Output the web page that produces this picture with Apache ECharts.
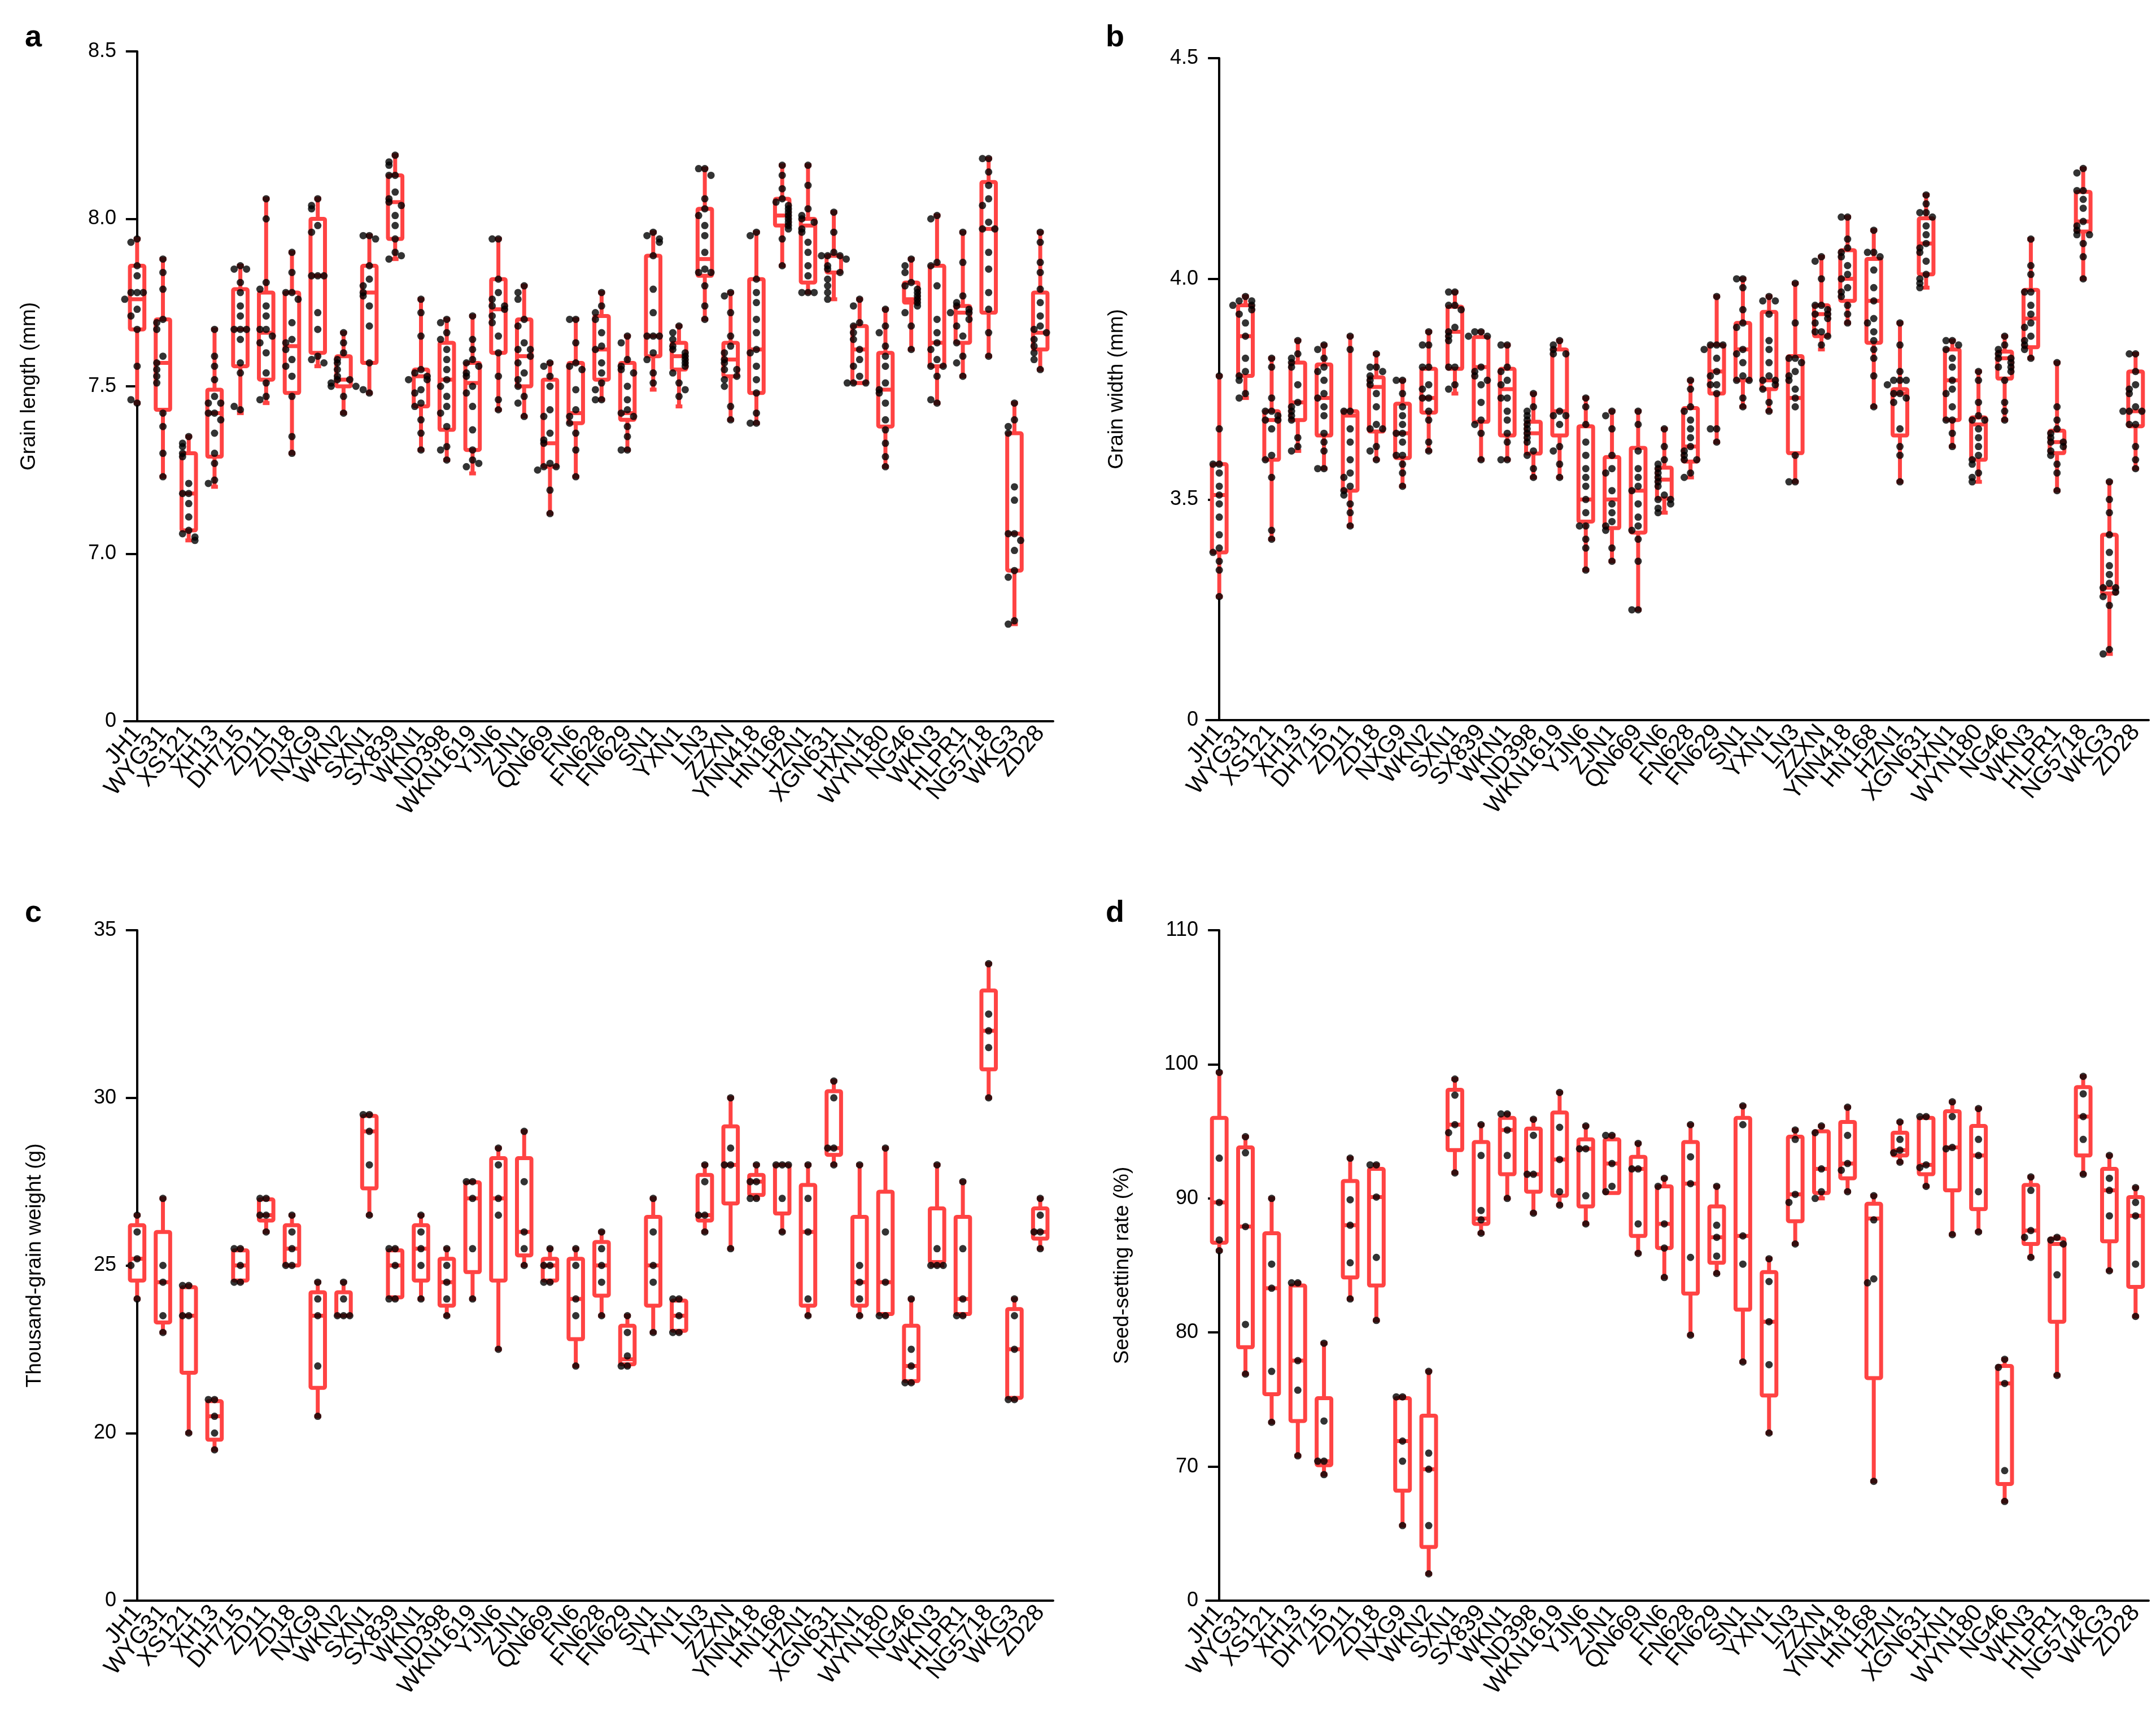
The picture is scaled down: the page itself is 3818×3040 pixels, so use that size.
<!DOCTYPE html>
<html><head><meta charset="utf-8">
<script src="https://cdn.jsdelivr.net/npm/echarts@6/dist/echarts.min.js"></script>
<style>html,body{margin:0;padding:0;background:#fff}#c{width:3818px;height:3040px}</style>
</head><body><div id="c"></div>
<script>
const categoriesAC = ['JH1','WYG31','XS121','XH13','DH715','ZD11','ZD18','NXG9','WKN2','SXN1','SX839','WKN1','ND398','WKN1619','YJN6','ZJN1','QN669','FN6','FN628','FN629','SN1','YXN1','LN3','ZZXN','YNN418','HN168','HZN1','XGN631','HXN1','WYN180','NG46','WKN3','HLPR1','NG5718','WKG3','ZD28'];
const categoriesBD = categoriesAC;

// Panel a: grain length (mm) [min,q1,median,q3,max]
const boxA = [[7.45,7.67,7.76,7.86,7.94],[7.23,7.43,7.57,7.70,7.88],[7.04,7.07,7.18,7.30,7.35],[7.20,7.29,7.42,7.49,7.67],[7.42,7.56,7.67,7.79,7.86],[7.45,7.52,7.66,7.78,8.06],[7.30,7.48,7.62,7.78,7.90],[7.56,7.60,7.83,8.00,8.06],[7.42,7.50,7.52,7.59,7.66],[7.48,7.57,7.78,7.86,7.95],[7.88,7.94,8.05,8.13,8.19],[7.31,7.44,7.53,7.55,7.76],[7.28,7.37,7.52,7.63,7.70],[7.24,7.31,7.51,7.57,7.71],[7.43,7.60,7.73,7.82,7.94],[7.41,7.50,7.59,7.70,7.80],[7.12,7.26,7.33,7.52,7.57],[7.23,7.39,7.42,7.57,7.70],[7.46,7.52,7.61,7.71,7.78],[7.31,7.40,7.42,7.57,7.65],[7.49,7.59,7.65,7.89,7.96],[7.44,7.55,7.59,7.63,7.68],[7.70,7.83,7.88,8.03,8.15],[7.40,7.53,7.58,7.63,7.78],[7.39,7.48,7.61,7.82,7.96],[7.86,7.98,8.01,8.06,8.16],[7.78,7.81,7.98,8.00,8.16],[7.76,7.84,7.89,7.89,8.02],[7.51,7.51,7.61,7.68,7.76],[7.26,7.38,7.49,7.60,7.73],[7.61,7.75,7.76,7.81,7.88],[7.45,7.56,7.63,7.86,8.01],[7.53,7.63,7.72,7.74,7.96],[7.59,7.72,7.97,8.11,8.18],[6.79,6.95,7.06,7.36,7.45],[7.55,7.61,7.66,7.78,7.96]];
const pointsA = [
[7.94,7.93,7.86,7.83,7.78,7.78,7.78,7.76,7.73,7.71,7.67,7.56,7.45,7.46],
[7.88,7.84,7.79,7.70,7.69,7.67,7.59,7.57,7.55,7.53,7.51,7.42,7.38,7.30,7.23],
[7.35,7.33,7.32,7.30,7.29,7.21,7.18,7.18,7.15,7.11,7.07,7.06,7.05,7.04],
[7.67,7.59,7.56,7.52,7.47,7.45,7.45,7.42,7.42,7.40,7.36,7.30,7.27,7.22,7.21],
[7.86,7.85,7.85,7.81,7.78,7.74,7.71,7.67,7.67,7.67,7.64,7.57,7.54,7.43,7.44],
[8.06,8.00,7.81,7.79,7.74,7.71,7.67,7.67,7.65,7.63,7.60,7.54,7.51,7.47,7.46],
[7.90,7.84,7.78,7.78,7.76,7.69,7.64,7.63,7.61,7.58,7.56,7.53,7.47,7.35,7.30],
[8.06,8.04,8.03,7.98,7.96,7.83,7.83,7.83,7.72,7.67,7.59,7.58,7.57],
[7.66,7.63,7.60,7.58,7.57,7.55,7.53,7.52,7.52,7.51,7.50,7.50,7.47,7.42],
[7.95,7.95,7.94,7.86,7.82,7.80,7.78,7.77,7.74,7.68,7.57,7.48,7.49],
[8.19,8.17,8.16,8.13,8.13,8.08,8.06,8.05,8.04,8.01,7.98,7.94,7.90,7.88,7.89],
[7.76,7.72,7.65,7.55,7.54,7.53,7.52,7.52,7.49,7.48,7.45,7.44,7.40,7.36,7.31],
[7.70,7.69,7.66,7.64,7.61,7.58,7.55,7.52,7.50,7.47,7.44,7.42,7.38,7.32,7.31,7.28],
[7.71,7.64,7.61,7.58,7.57,7.56,7.54,7.53,7.50,7.48,7.44,7.37,7.31,7.28,7.26,7.27],
[7.94,7.94,7.82,7.78,7.76,7.74,7.74,7.73,7.71,7.69,7.65,7.60,7.53,7.46,7.43],
[7.80,7.78,7.76,7.70,7.68,7.63,7.61,7.61,7.59,7.57,7.54,7.52,7.50,7.47,7.45,7.41],
[7.57,7.56,7.53,7.50,7.43,7.41,7.36,7.34,7.33,7.27,7.26,7.26,7.25,7.19,7.12],
[7.70,7.70,7.63,7.57,7.56,7.55,7.49,7.43,7.41,7.39,7.36,7.31,7.23],
[7.78,7.74,7.72,7.70,7.66,7.62,7.61,7.57,7.54,7.51,7.49,7.46,7.46],
[7.65,7.63,7.58,7.56,7.55,7.54,7.50,7.46,7.43,7.42,7.41,7.38,7.35,7.31,7.31],
[7.96,7.95,7.94,7.93,7.89,7.79,7.72,7.65,7.65,7.65,7.60,7.58,7.54,7.51],
[7.68,7.66,7.64,7.62,7.61,7.60,7.59,7.58,7.57,7.56,7.54,7.51,7.47,7.49],
[8.15,8.15,8.13,8.06,8.03,8.01,7.98,7.95,7.90,7.85,7.84,7.84,7.80,7.74,7.70],
[7.78,7.77,7.72,7.65,7.62,7.60,7.58,7.57,7.55,7.55,7.53,7.52,7.50,7.44,7.40],
[7.96,7.95,7.82,7.78,7.75,7.70,7.66,7.61,7.60,7.56,7.52,7.48,7.42,7.39,7.39],
[8.16,8.13,8.09,8.06,8.05,8.04,8.03,8.02,8.01,8.00,7.99,7.98,7.97,7.94,7.86],
[8.16,8.10,8.03,8.01,8.00,7.99,7.97,7.96,7.93,7.90,7.86,7.83,7.78,7.78,7.78],
[8.02,7.96,7.90,7.89,7.89,7.89,7.88,7.86,7.85,7.84,7.82,7.80,7.78,7.76],
[7.76,7.74,7.69,7.68,7.66,7.64,7.61,7.58,7.56,7.53,7.51,7.51,7.51],
[7.73,7.68,7.66,7.62,7.59,7.56,7.51,7.49,7.48,7.45,7.40,7.37,7.33,7.29,7.26],
[7.88,7.86,7.84,7.81,7.80,7.79,7.78,7.77,7.76,7.75,7.74,7.72,7.68,7.61],
[8.01,8.00,7.87,7.86,7.80,7.70,7.66,7.63,7.61,7.58,7.56,7.56,7.53,7.45,7.46],
[7.96,7.87,7.77,7.75,7.74,7.73,7.72,7.72,7.70,7.68,7.65,7.63,7.59,7.57,7.53],
[8.18,8.18,8.14,8.10,8.06,8.04,7.99,7.97,7.97,7.90,7.85,7.78,7.73,7.66,7.59],
[7.45,7.40,7.38,7.36,7.20,7.16,7.06,7.06,7.04,7.01,6.95,6.93,6.80,6.79],
[7.96,7.93,7.87,7.84,7.79,7.75,7.71,7.68,7.67,7.66,7.64,7.62,7.60,7.58,7.55]];

// Panel b: grain width (mm)
const boxB = [[3.28,3.38,3.51,3.58,3.78],[3.73,3.78,3.87,3.94,3.96],[3.41,3.59,3.68,3.70,3.82],[3.61,3.68,3.72,3.81,3.86],[3.57,3.645,3.73,3.806,3.85],[3.44,3.52,3.69,3.70,3.87],[3.59,3.654,3.755,3.777,3.83],[3.53,3.594,3.65,3.717,3.77],[3.61,3.697,3.73,3.796,3.88],[3.74,3.796,3.88,3.937,3.97],[3.59,3.676,3.80,3.868,3.88],[3.59,3.645,3.75,3.796,3.85],[3.55,3.604,3.65,3.676,3.74],[3.55,3.645,3.70,3.84,3.86],[3.34,3.45,3.50,3.666,3.73],[3.36,3.435,3.50,3.596,3.70],[3.25,3.425,3.52,3.617,3.70],[3.47,3.502,3.545,3.572,3.66],[3.55,3.586,3.62,3.707,3.77],[3.63,3.74,3.79,3.85,3.96],[3.71,3.77,3.84,3.90,4.00],[3.70,3.75,3.77,3.925,3.96],[3.54,3.605,3.73,3.825,3.99],[3.84,3.87,3.92,3.94,4.05],[3.90,3.95,4.00,4.065,4.14],[3.71,3.855,3.95,4.045,4.11],[3.54,3.645,3.74,3.75,3.90],[3.98,4.01,4.08,4.137,4.19],[3.62,3.68,3.77,3.84,3.86],[3.54,3.59,3.67,3.686,3.79],[3.68,3.774,3.82,3.835,3.87],[3.82,3.845,3.91,3.975,4.09],[3.52,3.605,3.63,3.656,3.81],[4.00,4.107,4.13,4.197,4.25],[3.15,3.287,3.30,3.42,3.54],[3.57,3.666,3.70,3.79,3.83]];
const pointsB = [
[3.78,3.66,3.58,3.58,3.56,3.53,3.51,3.49,3.46,3.42,3.39,3.38,3.36,3.34,3.28],
[3.96,3.95,3.95,3.94,3.94,3.93,3.92,3.90,3.87,3.82,3.79,3.78,3.77,3.74,3.73],
[3.82,3.80,3.73,3.70,3.70,3.69,3.68,3.68,3.66,3.60,3.59,3.55,3.43,3.41],
[3.86,3.83,3.82,3.81,3.80,3.76,3.72,3.71,3.70,3.69,3.68,3.64,3.62,3.61],
[3.85,3.84,3.82,3.80,3.79,3.77,3.74,3.73,3.71,3.69,3.65,3.63,3.61,3.57,3.57],
[3.87,3.84,3.70,3.70,3.66,3.63,3.59,3.56,3.55,3.53,3.52,3.51,3.49,3.47,3.44],
[3.83,3.80,3.80,3.79,3.78,3.77,3.76,3.74,3.71,3.67,3.66,3.66,3.62,3.61,3.59],
[3.77,3.77,3.74,3.71,3.69,3.67,3.65,3.65,3.63,3.60,3.60,3.58,3.56,3.53],
[3.88,3.85,3.85,3.80,3.80,3.76,3.75,3.73,3.73,3.70,3.68,3.63,3.61],
[3.97,3.97,3.94,3.94,3.93,3.89,3.88,3.87,3.86,3.80,3.80,3.76,3.75],
[3.88,3.88,3.87,3.87,3.80,3.79,3.78,3.76,3.77,3.72,3.68,3.67,3.65,3.59],
[3.85,3.85,3.80,3.79,3.77,3.76,3.73,3.73,3.70,3.68,3.65,3.63,3.59,3.59],
[3.74,3.71,3.70,3.69,3.68,3.67,3.66,3.65,3.64,3.63,3.61,3.60,3.57,3.55],
[3.86,3.85,3.84,3.83,3.83,3.70,3.69,3.69,3.67,3.62,3.61,3.58,3.55],
[3.73,3.71,3.67,3.63,3.60,3.57,3.55,3.53,3.50,3.47,3.44,3.44,3.41,3.39,3.34],
[3.70,3.69,3.66,3.60,3.57,3.56,3.52,3.49,3.47,3.45,3.44,3.43,3.39,3.36],
[3.70,3.67,3.61,3.57,3.55,3.53,3.52,3.49,3.46,3.44,3.43,3.41,3.36,3.25,3.25],
[3.66,3.62,3.59,3.58,3.57,3.56,3.55,3.54,3.53,3.51,3.50,3.50,3.49,3.48,3.47],
[3.77,3.75,3.71,3.70,3.68,3.66,3.64,3.62,3.61,3.60,3.59,3.59,3.56,3.55],
[3.96,3.85,3.85,3.85,3.84,3.82,3.79,3.78,3.76,3.76,3.74,3.66,3.66,3.63],
[4.00,4.00,3.98,3.93,3.90,3.89,3.84,3.83,3.81,3.78,3.77,3.77,3.73,3.71],
[3.96,3.95,3.95,3.92,3.86,3.84,3.81,3.78,3.77,3.77,3.76,3.75,3.72,3.70],
[3.99,3.90,3.82,3.82,3.81,3.79,3.78,3.77,3.75,3.73,3.71,3.60,3.54,3.54],
[4.05,4.04,4.00,3.94,3.94,3.93,3.92,3.92,3.91,3.90,3.88,3.88,3.87,3.85],
[4.14,4.14,4.09,4.07,4.06,4.05,4.03,4.01,4.00,3.98,3.97,3.96,3.94,3.92,3.90],
[4.11,4.06,4.06,4.05,4.02,3.98,3.95,3.91,3.90,3.88,3.86,3.84,3.82,3.78,3.71],
[3.90,3.85,3.79,3.77,3.77,3.77,3.76,3.74,3.74,3.73,3.72,3.66,3.62,3.60,3.54],
[4.19,4.17,4.15,4.15,4.14,4.12,4.10,4.08,4.07,4.06,4.04,4.01,4.00,3.99,3.98],
[3.86,3.86,3.85,3.84,3.82,3.80,3.77,3.75,3.74,3.71,3.68,3.68,3.65,3.62],
[3.79,3.77,3.72,3.69,3.68,3.68,3.66,3.64,3.62,3.60,3.59,3.58,3.56,3.55,3.54],
[3.87,3.85,3.84,3.83,3.82,3.82,3.81,3.80,3.80,3.79,3.77,3.72,3.70,3.68],
[4.09,4.03,4.01,3.97,3.97,3.94,3.92,3.90,3.89,3.87,3.86,3.85,3.84,3.82],
[3.81,3.71,3.68,3.66,3.65,3.64,3.63,3.63,3.62,3.61,3.60,3.58,3.56,3.52],
[4.25,4.24,4.20,4.20,4.18,4.16,4.13,4.12,4.11,4.10,4.10,4.08,4.05,4.00],
[3.54,3.50,3.47,3.42,3.38,3.35,3.33,3.31,3.30,3.30,3.29,3.28,3.26,3.16,3.15],
[3.83,3.83,3.79,3.76,3.75,3.74,3.71,3.70,3.70,3.70,3.67,3.67,3.62,3.59,3.57]];

// Panel c: thousand-grain weight (g)
const boxC = [[24.0,24.55,25.2,26.2,26.5],[23.0,23.3,24.5,26.0,27.0],[20.0,21.8,23.5,24.35,24.4],[19.5,19.8,20.5,20.95,21.0],[24.5,24.55,25.0,25.45,25.5],[26.0,26.34,26.5,26.97,27.0],[25.0,25.0,25.5,26.2,26.5],[20.5,21.35,23.5,24.2,24.5],[23.5,23.5,23.5,24.2,24.5],[26.5,27.3,29.0,29.46,29.5],[24.0,24.05,25.0,25.45,25.5],[24.0,24.55,25.5,26.2,26.5],[23.5,23.8,24.5,25.2,25.5],[24.0,24.8,27.0,27.48,27.5],[22.5,24.55,27.0,28.2,28.5],[25.0,25.3,26.0,28.2,29.0],[24.5,24.55,25.0,25.2,25.5],[22.0,22.8,24.0,25.2,25.5],[23.5,24.1,25.0,25.7,26.0],[22.0,22.05,22.2,23.2,23.5],[23.0,23.8,25.0,26.45,27.0],[23.0,23.05,23.5,23.95,24.0],[26.0,26.34,26.5,27.7,28.0],[25.5,26.85,28.0,29.15,30.0],[27.0,27.1,27.5,27.7,28.0],[26.0,26.55,28.0,28.0,28.0],[23.5,23.8,26.0,27.4,28.0],[28.0,28.3,28.5,30.2,30.5],[23.5,23.8,24.5,26.45,28.0],[23.5,23.55,24.5,27.2,28.5],[21.5,21.55,22.0,23.2,24.0],[25.0,25.1,25.0,26.7,28.0],[23.5,23.55,24.0,26.45,27.5],[30.0,30.85,32.0,33.2,34.0],[21.0,21.05,22.5,23.7,24.0],[25.5,25.8,26.0,26.7,27.0]];
const pointsC = [[26.5,26.0,25.2,25.0,24.0],[27.0,25.0,24.5,23.5,23.0],[24.4,24.4,23.5,23.5,20.0],[21.0,21.0,20.5,20.0,19.5],[25.5,25.5,25.0,24.5,24.5],[27.0,27.0,26.5,26.5,26.0],[26.5,26.0,25.5,25.0,25.0],[24.5,24.0,23.5,22.0,20.5],[24.5,24.0,23.5,23.5,23.5],[29.5,29.5,29.0,28.0,26.5],[25.5,25.5,25.0,24.0,24.0],[26.5,26.0,25.5,25.0,24.0],[25.5,25.0,24.5,24.0,23.5],[27.5,27.5,27.0,25.5,24.0],[28.5,28.0,27.0,26.5,22.5],[29.0,27.5,26.0,25.5,25.0],[25.5,25.0,25.0,24.5,24.5],[25.5,25.0,24.0,23.5,22.0],[26.0,25.5,25.0,24.5,23.5],[23.5,23.0,22.3,22.0,22.0],[27.0,26.0,25.0,24.5,23.0],[24.0,24.0,23.5,23.0,23.0],[28.0,27.5,26.5,26.5,26.0],[30.0,28.5,28.0,28.0,25.5],[28.0,27.5,27.5,27.0,27.0],[28.0,28.0,28.0,27.0,26.0],[28.0,27.0,26.0,24.0,23.5],[30.5,30.0,28.5,28.5,28.0],[28.0,25.0,24.5,24.0,23.5],[28.5,26.0,24.5,23.5,23.5],[24.0,22.5,22.0,21.5,21.5],[28.0,25.5,25.0,25.0,25.0],[27.5,25.5,24.0,23.5,23.5],[34.0,32.5,32.0,31.5,30.0],[24.0,23.5,22.5,21.0,21.0],[27.0,26.5,26.0,26.0,25.5]];

// Panel d: seed-setting rate (%)
const boxD = [[86.1,86.7,89.7,96.0,99.4],[76.9,78.9,87.9,93.8,94.6],[73.3,75.4,83.3,87.4,90.0],[70.8,73.4,77.9,83.5,83.7],[69.4,70.1,70.4,75.1,79.2],[82.5,84.1,88.0,91.3,93.0],[80.9,83.5,90.1,92.2,92.5],[65.6,68.2,71.9,75.1,75.2],[62.0,64.0,69.8,73.8,77.1],[91.9,93.6,95.5,98.1,98.9],[87.4,88.1,88.5,94.2,95.5],[90.0,91.8,95.1,96.0,96.3],[88.9,90.5,91.8,95.2,95.9],[89.5,90.2,92.9,96.4,97.9],[88.1,89.4,93.7,94.4,95.4],[90.5,90.4,92.6,94.4,94.7],[85.9,87.2,92.2,93.1,94.1],[84.1,86.3,88.1,90.9,91.5],[79.8,82.9,91.1,94.2,95.5],[84.4,85.2,87.1,89.4,90.9],[77.8,81.7,87.2,96.0,96.9],[72.5,75.3,80.8,84.5,85.5],[86.6,88.3,90.3,94.6,95.1],[90.0,90.4,92.2,95.0,95.4],[90.5,91.5,92.6,95.7,96.8],[68.9,76.6,88.5,89.6,90.2],[92.7,93.2,93.6,94.9,95.7],[90.9,91.8,92.5,96.0,96.1],[87.3,90.6,93.8,96.5,97.2],[87.5,89.2,93.2,95.4,96.7],[67.4,68.7,76.2,77.5,78.0],[85.6,86.6,87.6,91.0,91.6],[76.8,80.8,86.6,87.0,87.1],[91.8,93.2,96.1,98.3,99.1],[84.6,86.8,90.6,92.2,93.2],[81.2,83.4,88.7,90.1,90.8]];
const pointsD = [[99.4,93.0,89.7,86.9,86.1],[94.6,93.4,87.9,80.6,76.9],[90.0,85.1,83.3,77.1,73.3],[83.7,83.7,77.9,75.7,70.8],[79.2,73.4,70.4,70.4,69.4],[93.0,89.9,88.0,85.2,82.5],[92.5,92.5,90.1,85.6,80.9],[75.2,75.2,71.9,70.4,65.6],[77.1,71.0,69.8,65.6,62.0],[98.9,97.7,95.5,94.9,91.9],[95.5,93.2,89.1,88.4,87.4],[96.3,96.3,95.1,93.2,90.0],[95.9,94.7,91.8,91.8,88.9],[97.9,95.3,92.9,90.5,89.5],[95.4,93.7,93.7,90.2,88.1],[94.7,94.7,92.6,90.9,90.5],[94.1,92.2,92.2,88.1,85.9],[91.5,90.9,88.1,86.3,84.1],[95.5,93.1,91.1,85.6,79.8],[90.9,88.0,87.1,85.7,84.4],[96.9,95.5,87.2,85.1,77.8],[85.5,83.8,80.8,77.6,72.5],[95.1,94.4,90.3,89.7,86.6],[95.4,94.9,92.2,90.5,90.0],[96.8,94.7,92.6,92.1,90.5],[90.2,88.4,84.0,83.7,68.9],[95.7,94.4,93.6,93.4,92.7],[96.1,96.1,92.5,92.3,90.9],[97.2,96.1,93.8,93.7,87.3],[96.7,94.4,93.2,90.5,87.5],[78.0,77.4,76.2,69.7,67.4],[91.6,90.6,87.6,87.1,85.6],[87.1,86.9,86.6,84.3,76.8],[99.1,97.8,96.1,94.4,91.8],[93.2,91.5,90.6,88.7,84.6],[90.8,89.7,88.7,85.1,81.2]];

const panels = [
  {cats:categoriesAC, box:boxA, pts:pointsA, min:6.5, max:8.5, interval:0.5, dec:1, name:'Grain length (mm)', grid:{left:220,top:91,width:1645,height:1186}, gap:150, tag:'a', tagPos:[44,40]},
  {cats:categoriesBD, box:boxB, pts:pointsB, min:3.0, max:4.5, interval:0.5, dec:1, name:'Grain width (mm)', grid:{left:2136,top:103,width:1669,height:1172}, gap:140, tag:'b', tagPos:[1958,40]},
  {cats:categoriesAC, box:boxC, pts:pointsC, min:15, max:35, interval:5, dec:0, name:'Thousand-grain weight (g)', grid:{left:220,top:1647,width:1645,height:1187}, gap:140, tag:'c', tagPos:[44,1590]},
  {cats:categoriesBD, box:boxD, pts:pointsD, min:60, max:110, interval:10, dec:0, name:'Seed-setting rate (%)', grid:{left:2136,top:1647,width:1669,height:1187}, gap:130, tag:'d', tagPos:[1958,1590]}
];

const RED = '#ff4343';
const FONT = 'Liberation Sans';
const grid = [], xAxis = [], yAxis = [], series = [], graphic = [];
panels.forEach((p, gi) => {
  grid.push(Object.assign({containLabel:false}, p.grid));
  xAxis.push({type:'category', gridIndex:gi, data:p.cats, boundaryGap:true,
    axisLine:{lineStyle:{color:'#000', width:4}},
    axisTick:{alignWithLabel:true, length:20, lineStyle:{color:'#000', width:4}},
    axisLabel:{interval:0, rotate:50, fontSize:42, fontFamily:FONT, color:'#000', margin:14},
    splitLine:{show:false}});
  xAxis.push({type:'value', gridIndex:gi, min:-0.5, max:p.cats.length-0.5, show:false, splitLine:{show:false}});
  yAxis.push({type:'value', gridIndex:gi, min:p.min, max:p.max, interval:p.interval,
    name:p.name, nameLocation:'middle', nameGap:p.gap, nameRotate:90,
    nameTextStyle:{fontSize:37, fontFamily:FONT, color:'#000'},
    axisLine:{show:true, lineStyle:{color:'#000', width:4}},
    axisTick:{show:true, length:20, lineStyle:{color:'#000', width:4}},
    axisLabel:{fontSize:36, fontFamily:FONT, color:'#000', margin:14,
      formatter:v => Math.abs(v - p.min) < 1e-9 ? '0' : v.toFixed(p.dec)},
    splitLine:{show:false}});
  const boxData = p.box.map((b, i) => [i].concat(b));
  series.push({type:'custom', xAxisIndex:gi*2, yAxisIndex:gi, data:boxData, z:2,
    renderItem:(params, api) => {
      const i = api.value(0);
      const bw = api.size([1, 0])[0];
      const hw = bw * 0.28, cw = bw * 0.13;
      const pMin = api.coord([i, api.value(1)]), pQ1 = api.coord([i, api.value(2)]);
      const pMed = api.coord([i, api.value(3)]), pQ3 = api.coord([i, api.value(4)]);
      const pMax = api.coord([i, api.value(5)]);
      const x = pMin[0];
      const st = {stroke:RED, lineWidth:7, fill:null};
      return {type:'group', children:[
        {type:'line', shape:{x1:x, y1:pMax[1], x2:x, y2:pQ3[1]}, style:st},
        {type:'line', shape:{x1:x, y1:pQ1[1], x2:x, y2:pMin[1]}, style:st},
        {type:'line', shape:{x1:x-cw, y1:pMax[1], x2:x+cw, y2:pMax[1]}, style:st},
        {type:'line', shape:{x1:x-cw, y1:pMin[1], x2:x+cw, y2:pMin[1]}, style:st},
        {type:'rect', shape:{x:x-hw, y:pQ3[1], width:2*hw, height:pQ1[1]-pQ3[1], r:2}, style:{stroke:RED, lineWidth:7, fill:'#fff'}},
        {type:'line', shape:{x1:x-hw, y1:pMed[1], x2:x+hw, y2:pMed[1]}, style:st}
      ]};
    }});
  const delta = (p.max - p.min) * 0.012;
  const offs = [0, -1, 1, -2, 2, -3, 3];
  const scat = [];
  p.pts.forEach((arr, i) => {
    const placed = [];
    arr.forEach(v => {
      const near = placed.filter(q => Math.abs(q - v) < delta).length;
      placed.push(v);
      scat.push([i + offs[Math.min(near, 6)] * 0.24, v]);
    });
  });
  series.push({type:'scatter', xAxisIndex:gi*2+1, yAxisIndex:gi, data:scat, symbolSize:13, z:5,
    itemStyle:{color:'#000'}, silent:true});
  graphic.push({type:'text', left:p.tagPos[0], top:p.tagPos[1], style:{text:p.tag, font:'bold 54px "Liberation Sans"', fill:'#000'}});
});

const chart = echarts.init(document.getElementById('c'), null, {renderer:'canvas'});
chart.setOption({animation:false, backgroundColor:'#fff', grid, xAxis, yAxis, series, graphic});
</script></body></html>
